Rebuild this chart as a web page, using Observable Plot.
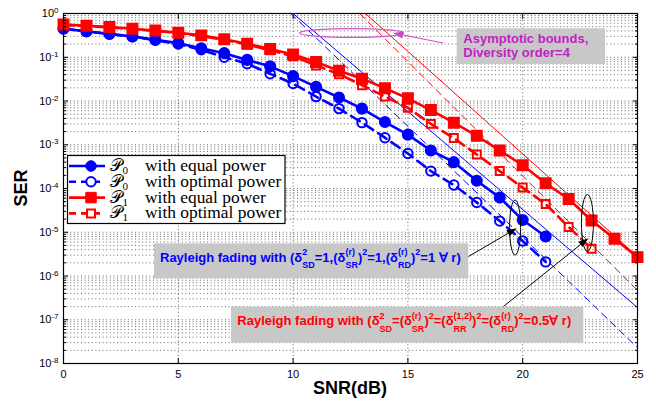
<!DOCTYPE html>
<html>
<head>
<meta charset="utf-8">
<script src="https://cdn.jsdelivr.net/npm/d3@7"></script>
<script src="https://cdn.jsdelivr.net/npm/@observablehq/plot@0.6"></script>
<style>
  html,body{margin:0;padding:0;background:#fff;}
  #chart{width:656px;height:404px;}
</style>
</head>
<body>
<div id="chart"></div>
<script>
// ---------------- data ----------------
const snrP0 = [0,1,2,3,4,5,6,7,8,9,10,11,12,13,14,15,16,17,18,19,20,21];
const serP0Equal = [0.45,0.39,0.34,0.30,0.25,0.21,0.16,0.124,0.087,0.062,0.037,0.021,0.012,0.0067,0.0033,0.0017,7.4e-4,4.0e-4,1.5e-4,6.2e-5,1.9e-5,8.0e-6];
const serP0Optimal = [0.45,0.39,0.34,0.295,0.245,0.20,0.148,0.10,0.071,0.042,0.025,0.0126,0.0067,0.0032,0.00145,6.3e-4,2.5e-4,1.2e-4,4.8e-5,1.8e-5,6.3e-6,2.1e-6];
const snrP1Equal = [0,1,2,3,4,5,6,7,8,9,10,11,12,13,14,15,16,17,18,19,20,21,22,23,24,25];
const serP1Equal = [0.562,0.525,0.49,0.447,0.407,0.363,0.316,0.257,0.204,0.155,0.115,0.078,0.049,0.0324,0.0195,0.0115,0.0062,0.0032,0.0016,7.4e-4,3.4e-4,1.32e-4,5.75e-5,1.86e-5,7.1e-6,2.7e-6];
const snrP1Optimal = [0,1,2,3,4,5,6,7,8,9,10,11,12,13,14,15,16,17,18,19,20,21,22,23];
const serP1Optimal = [0.55,0.515,0.48,0.44,0.40,0.355,0.305,0.25,0.195,0.145,0.105,0.065,0.041,0.023,0.0126,0.0070,0.0030,0.00142,6.0e-4,2.5e-4,1.05e-4,4.4e-5,1.32e-5,4.2e-6];

// asymptotic bounds (straight lines on the log scale), end points
const asymSnrP0Equal = [10.0, 25];
const asymSerP0Equal = [1, 1.9e-7];
const asymSnrP0Optimal = [9.9, 25];
const asymSerP0Optimal = [1, 2.3e-8];
const asymSnrP1Equal = [13.15, 25];
const asymSerP1Equal = [1, 2.8e-6];
const asymSnrP1Optimal = [12.9, 25];
const asymSerP1Optimal = [1, 4.7e-7];

// ticks
const xTicks = [0,5,10,15,20,25];
const yTicks = [1e-8,1e-7,1e-6,1e-5,1e-4,1e-3,1e-2,1e-1,1];

// legend
const legendSeries = ["P0 equal","P0 optimal","P1 equal","P1 optimal"];
const legendSubs = ["0","0","1","1"];
const legendTexts = ["with equal power","with optimal power","with equal power","with optimal power"];

// annotation anchors (data coordinates: SNR dB, SER)
const ellipseSnr = [19.69, 22.84, 12.57];
const ellipseSer = [1.25e-5, 1.58e-5, 0.349];
const arrowFromSnr = [17.65, 19.18, 16.56];
const arrowFromSer = [2.7e-6, 1.95e-7, 0.206];
const arrowToSnr = [19.76, 22.88, 14.38];
const arrowToSer = [1.2e-5, 7.1e-6, 0.349];
const asymNote = ["Asymptotic bounds,", "Diversity order=4"];

// ---------------- chart ----------------
const BLUE = "#0000ff", RED = "#ff0000", MAG = "#c41ec4";
const zip = (xs, ys) => xs.map((x, i) => ({snr: x, ser: ys[i]}));
const P0E = zip(snrP0, serP0Equal), P0O = zip(snrP0, serP0Optimal);
const P1E = zip(snrP1Equal, serP1Equal), P1O = zip(snrP1Optimal, serP1Optimal);
const minorTicks = yTicks.slice(0, -1).flatMap(d => d3.range(2, 10).map(m => m * d));
const grid = {stroke: "#222", strokeOpacity: 0.85, strokeDasharray: "1,2.6", strokeWidth: 0.8};

const plot = Plot.plot({
  width: 656, height: 404,
  marginLeft: 63, marginRight: 19, marginTop: 13, marginBottom: 41,
  x: {domain: [0, 25]},
  y: {type: "log", domain: [1e-8, 1]},
  style: {fontFamily: "'Liberation Sans', Arial, sans-serif", fontSize: "11px", color: "#000", background: "#fff", overflow: "visible"},
  marks: [
    Plot.gridX({ticks: xTicks.slice(1, -1), ...grid}),
    Plot.gridY({ticks: minorTicks, ...grid}),
    Plot.gridY({ticks: yTicks.slice(1, -1), ...grid}),
    Plot.line(zip(asymSnrP0Equal, asymSerP0Equal), {x: "snr", y: "ser", stroke: BLUE, strokeWidth: 1}),
    Plot.line(zip(asymSnrP0Optimal, asymSerP0Optimal), {x: "snr", y: "ser", stroke: BLUE, strokeWidth: 1, strokeDasharray: "7,5"}),
    Plot.line(zip(asymSnrP1Equal, asymSerP1Equal), {x: "snr", y: "ser", stroke: RED, strokeWidth: 1}),
    Plot.line(zip(asymSnrP1Optimal, asymSerP1Optimal), {x: "snr", y: "ser", stroke: RED, strokeWidth: 1, strokeDasharray: "7,5"}),
    Plot.line(P0E, {x: "snr", y: "ser", stroke: BLUE, strokeWidth: 2.6}),
    Plot.line(P0O, {x: "snr", y: "ser", stroke: BLUE, strokeWidth: 2.6, strokeDasharray: "10,6"}),
    Plot.line(P1E, {x: "snr", y: "ser", stroke: RED, strokeWidth: 2.6}),
    Plot.line(P1O, {x: "snr", y: "ser", stroke: RED, strokeWidth: 2.6, strokeDasharray: "10,6"}),
    Plot.dot(P0E, {x: "snr", y: "ser", r: 5.3, fill: BLUE, stroke: BLUE}),
    Plot.dot(P0O, {x: "snr", y: "ser", r: 4.7, fill: "none", stroke: BLUE, strokeWidth: 2}),
    Plot.dot(P1E, {x: "snr", y: "ser", symbol: "square", r: 5.9, fill: RED, stroke: RED}),
    Plot.dot(P1O, {x: "snr", y: "ser", symbol: "square", r: 4.5, fill: "none", stroke: RED, strokeWidth: 2}),
    Plot.frame({stroke: "#000", strokeWidth: 1.2}),
    // inward ticks on all four sides
    Plot.axisX({anchor: "bottom", ticks: xTicks, tickSize: 5, dy: -5, tickFormat: () => "", label: null}),
    Plot.axisX({anchor: "top", ticks: xTicks, tickSize: 5, dy: 5, tickFormat: () => "", label: null}),
    Plot.axisY({anchor: "left", ticks: yTicks, tickSize: 5, dx: 5, tickFormat: () => "", label: null}),
    Plot.axisY({anchor: "right", ticks: yTicks, tickSize: 5, dx: -5, tickFormat: () => "", label: null}),
    Plot.axisY({anchor: "left", ticks: minorTicks, tickSize: 3, dx: 3, tickFormat: () => "", label: null}),
    Plot.axisY({anchor: "right", ticks: minorTicks, tickSize: 3, dx: -3, tickFormat: () => "", label: null}),
    // tick labels
    Plot.axisX({anchor: "bottom", ticks: xTicks, tickSize: 0, tickPadding: 7, label: null, tickFormat: d => String(d)}),
    Plot.axisY({anchor: "left", ticks: yTicks, tickSize: 0, tickPadding: 5, label: null, tickFormat: d => "e" + Math.round(Math.log10(d))})
  ]
});
document.getElementById("chart").appendChild(plot);

// ---------------- post-processing ----------------
const svg = d3.select(plot);
const sx = plot.scale("x"), sy = plot.scale("y");
const X = v => sx.apply(v), Y = v => sy.apply(v);

// y tick labels as 10^k (only the labelled axis)
svg.selectAll('g[aria-label="y-axis tick label"] text').each(function() {
  const t = d3.select(this);
  const s = t.text();
  if (!s.startsWith("e")) return;
  t.text(null);
  t.append("tspan").text("10");
  t.append("tspan").attr("dy", "-0.5em").attr("font-size", 8).text(s.slice(1));
});

const ann = svg.append("g").attr("text-anchor", "start");

// axis titles
ann.append("text").attr("x", 350).attr("y", 394).attr("text-anchor", "middle")
  .attr("font-family", "'Liberation Sans', Arial, sans-serif").attr("font-weight", "bold").attr("font-size", 18).text("SNR(dB)");
ann.append("text").attr("transform", "translate(27,188) rotate(-90)").attr("text-anchor", "middle")
  .attr("font-family", "'Liberation Sans', Arial, sans-serif").attr("font-weight", "bold").attr("font-size", 18).text("SER");

// ellipses
const ellipseR = [[5.5, 27.5, "#000", 1], [6, 28.5, "#000", 1], [52, 4.4, "#cc55cc", 1.2]];
ellipseSnr.forEach((s, i) => {
  ann.append("ellipse").attr("cx", X(s)).attr("cy", Y(ellipseSer[i]))
    .attr("rx", ellipseR[i][0]).attr("ry", ellipseR[i][1])
    .attr("fill", "none").attr("stroke", ellipseR[i][2]).attr("stroke-width", ellipseR[i][3]);
});

// arrows
const arrowColor = ["#000", "#000", "#cc44cc"];
arrowFromSnr.forEach((s, i) => {
  const x1 = X(s), y1 = Y(arrowFromSer[i]), x2 = X(arrowToSnr[i]), y2 = Y(arrowToSer[i]);
  const a = Math.atan2(y2 - y1, x2 - x1), L = 10, W = 3.5;
  const bx = x2 - L * Math.cos(a), by = y2 - L * Math.sin(a);
  ann.append("line").attr("x1", x1).attr("y1", y1).attr("x2", bx).attr("y2", by)
    .attr("stroke", arrowColor[i]).attr("stroke-width", 1);
  const px = -Math.sin(a) * W, py = Math.cos(a) * W;
  ann.append("path").attr("d", `M${x2},${y2}L${bx + px},${by + py}L${bx - px},${by - py}Z`).attr("fill", arrowColor[i]);
});

// rich text helper (superscripts / subscripts)
function rich(g, x, y, parts, color) {
  const gg = g.append("g").attr("font-family", "'Liberation Sans', Arial, sans-serif").attr("font-weight", "bold")
    .attr("fill", color).attr("text-anchor", "start");
  let cx = x;
  for (const p of parts) {
    if (typeof p === "string") {
      const t = gg.append("text").attr("x", cx).attr("y", y).attr("font-size", 13).text(p);
      cx += t.node().getComputedTextLength();
    } else {
      let w = 0;
      if (p.sup) { const t = gg.append("text").attr("x", cx).attr("y", y - 6.5).attr("font-size", 9).text(p.sup); w = Math.max(w, t.node().getComputedTextLength()); }
      if (p.sub) { const t = gg.append("text").attr("x", cx).attr("y", y + 6.5).attr("font-size", 9).text(p.sub); w = Math.max(w, t.node().getComputedTextLength()); }
      cx += w;
    }
  }
  return cx;
}

// text boxes
const GRAY = "#c8c8c8";
ann.append("rect").attr("x", 456.7).attr("y", 28.3).attr("width", 148.3).attr("height", 35.7).attr("fill", GRAY);
asymNote.forEach((s, i) => {
  ann.append("text").attr("x", 463.3).attr("y", 42.7 + i * 14.6)
    .attr("font-family", "'Liberation Sans', Arial, sans-serif").attr("font-weight", "bold").attr("font-size", 13)
    .attr("fill", MAG).text(s);
});

ann.append("rect").attr("x", 154).attr("y", 243.3).attr("width", 314.3).attr("height", 35).attr("fill", GRAY);
rich(ann, 160, 261.5, ["Rayleigh fading with (δ", {sup: "2", sub: "SD"}, "=1,(δ", {sup: "(r)", sub: "SR"}, ")", {sup: "2"}, "=1,(δ", {sup: "(r)", sub: "RD"}, ")", {sup: "2"}, "=1 ∀ r)"], BLUE);

ann.append("rect").attr("x", 231).attr("y", 306.7).attr("width", 352.3).attr("height", 36).attr("fill", GRAY);
rich(ann, 237.3, 325, ["Rayleigh fading with (δ", {sup: "2", sub: "SD"}, "=(δ", {sup: "(r)", sub: "SR"}, ")", {sup: "2"}, "=(δ", {sup: "(1,2)", sub: "RR"}, ")", {sup: "2"}, "=(δ", {sup: "(r)", sub: "RD"}, ")", {sup: "2"}, "=0.5∀ r)"], RED);

// legend
const lg = ann.append("g");
lg.append("rect").attr("x", 67.5).attr("y", 155.5).attr("width", 217.5).attr("height", 68).attr("fill", "#fff").attr("stroke", "#000").attr("stroke-width", 1.2);
const lgColor = [BLUE, BLUE, RED, RED];
const lgDash = [null, "7,5", null, "7,5"];
legendSeries.forEach((s, i) => {
  const cy = 166 + i * 15.8;
  lg.append("line").attr("x1", 69).attr("x2", 105).attr("y1", cy).attr("y2", cy)
    .attr("stroke", lgColor[i]).attr("stroke-width", 2.6).attr("stroke-dasharray", lgDash[i]);
  const sym = i < 2 ? d3.symbolCircle : d3.symbolSquare;
  const r = [5.3, 4.7, 5.9, 4.5][i];
  lg.append("path").attr("d", d3.symbol(sym, Math.PI * r * r)()).attr("transform", `translate(91,${cy})`)
    .attr("fill", i % 2 === 0 ? lgColor[i] : "#fff").attr("stroke", lgColor[i]).attr("stroke-width", i % 2 === 0 ? 1 : 2);
  const fam = "'Liberation Serif', 'DejaVu Serif', serif";
  const tp = lg.append("text").attr("x", 110).attr("y", cy + 5).attr("text-anchor", "start")
    .attr("font-family", fam).attr("font-size", 17).attr("fill", "#000").text("𝒫");
  const pw = tp.node().getComputedTextLength();
  lg.append("text").attr("x", 110 + pw + 0.5).attr("y", cy + 8).attr("text-anchor", "start")
    .attr("font-family", fam).attr("font-size", 11).attr("fill", "#000").text(legendSubs[i]);
  lg.append("text").attr("x", 145).attr("y", cy + 5).attr("text-anchor", "start")
    .attr("font-family", fam).attr("font-size", 17.4).attr("fill", "#000").text(legendTexts[i]);
});
</script>
</body>
</html>
